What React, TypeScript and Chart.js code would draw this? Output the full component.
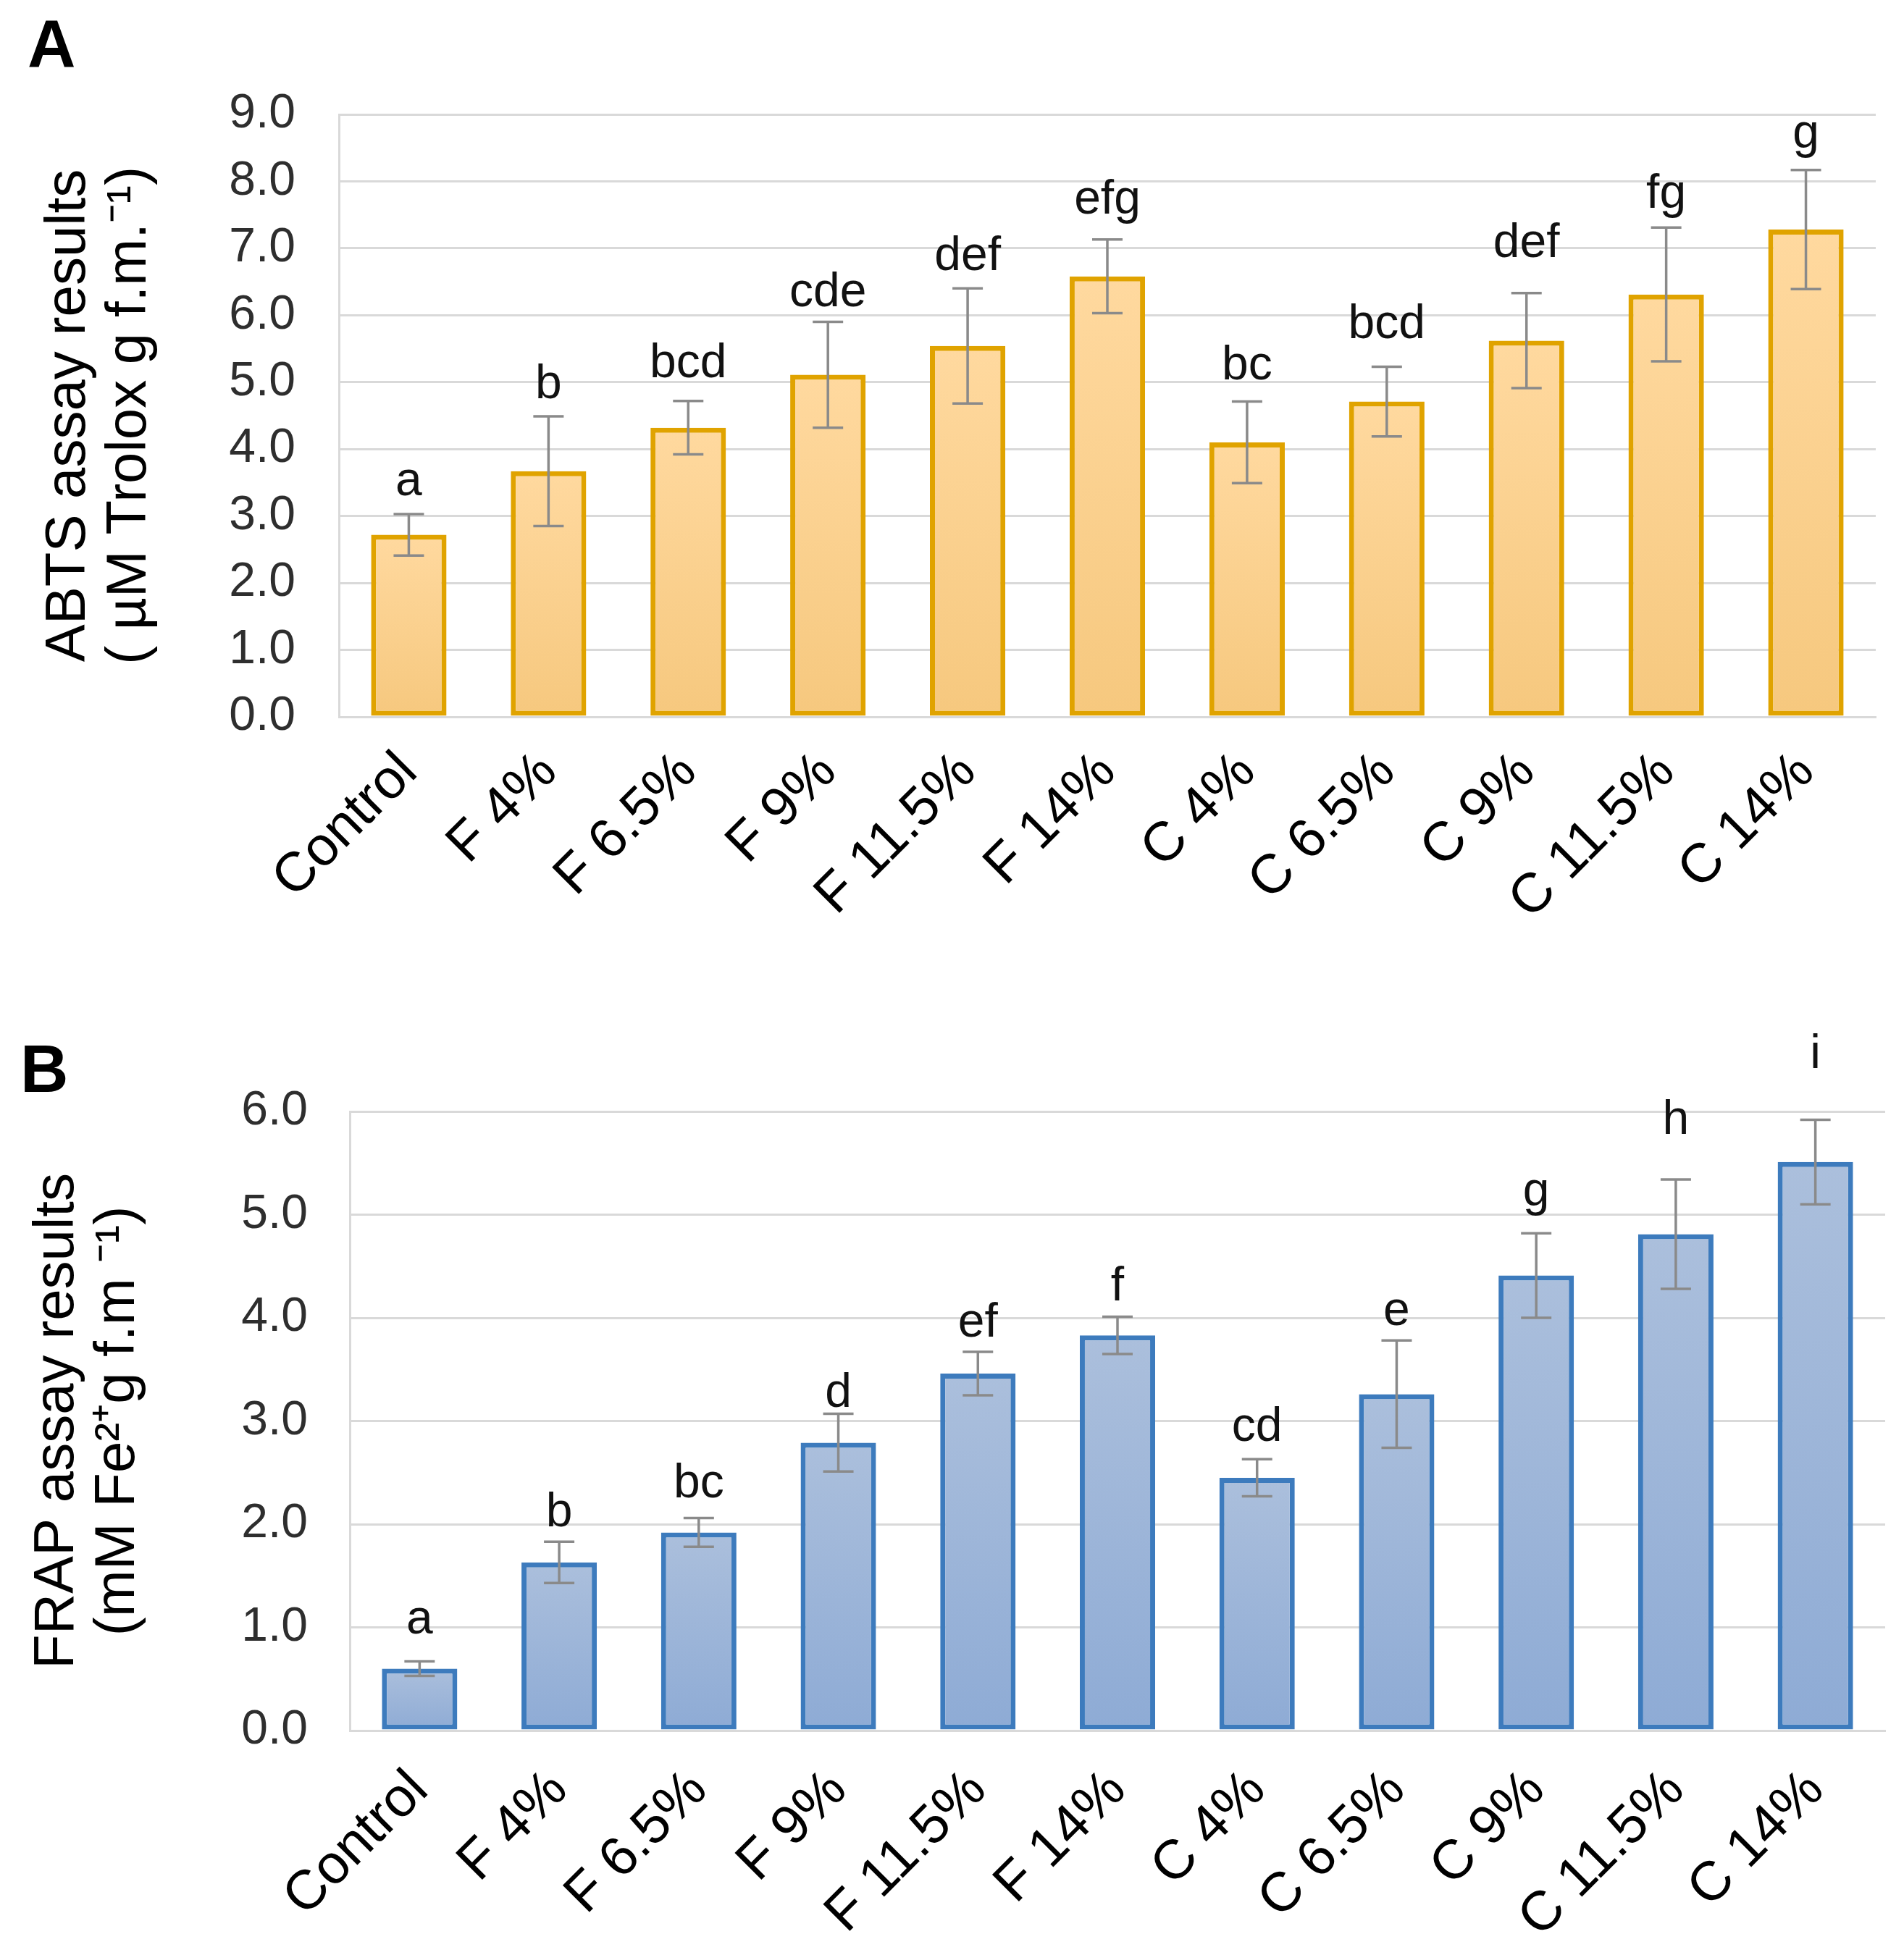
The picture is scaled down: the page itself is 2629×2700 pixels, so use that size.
import React, { useEffect, useRef } from 'react';
import { Chart, registerables } from 'chart.js';

Chart.register(...registerables);

const FONT = '"Liberation Sans", Arial, Helvetica, sans-serif';

// ---------- data ----------
const categories = ['Control', 'F 4%', 'F 6.5%', 'F 9%', 'F 11.5%', 'F 14%', 'C 4%', 'C 6.5%', 'C 9%', 'C 11.5%', 'C 14%'];

const abtsMeans = [2.72, 3.67, 4.32, 5.11, 5.54, 6.58, 4.10, 4.71, 5.62, 6.31, 7.28];
const abtsErrors = [0.31, 0.82, 0.40, 0.79, 0.86, 0.55, 0.61, 0.52, 0.71, 1.00, 0.89];
const abtsLetters = ['a', 'b', 'bcd', 'cde', 'def', 'efg', 'bc', 'bcd', 'def', 'fg', 'g'];
const abtsLetterLevels = [3.31, 4.76, 5.07, 6.13, 6.67, 7.52, 5.04, 5.66, 6.87, 7.60, 8.50];
const abtsTicks = { min: 0, max: 9, step: 1 };

const frapMeans = [0.60, 1.63, 1.92, 2.79, 3.46, 3.83, 2.45, 3.26, 4.41, 4.81, 5.51];
const frapErrors = [0.07, 0.20, 0.14, 0.28, 0.21, 0.18, 0.18, 0.52, 0.41, 0.53, 0.41];
const frapLetters = ['a', 'b', 'bc', 'd', 'ef', 'f', 'cd', 'e', 'g', 'h', 'i'];
const frapLetterLevels = [0.94, 1.98, 2.26, 3.14, 3.82, 4.17, 2.81, 3.93, 5.09, 5.78, 6.42];
const frapTicks = { min: 0, max: 6, step: 1 };

const abtsTitle = ['ABTS assay results', '( µM Trolox g f.m.⁻¹)'];
const frapTitle = ['FRAP assay results', '(mM Fe²⁺g f.m ⁻¹)'];

// ---------- plugin: error bars, letters, panel label ----------
const annotPlugin = {
  id: 'annot',
  afterDatasetsDraw(chart: any, _args: any, opts: any) {
    const { ctx } = chart;
    const y = chart.scales.y;
    const meta = chart.getDatasetMeta(0);
    ctx.save();
    meta.data.forEach((bar: any, i: number) => {
      const v = opts.means[i];
      const e = opts.errors[i];
      const x = bar.x;
      const yt = y.getPixelForValue(v + e);
      const yb = y.getPixelForValue(v - e);
      ctx.strokeStyle = '#8a8a8a';
      ctx.lineWidth = 3.5;
      ctx.beginPath();
      ctx.moveTo(x, yt);
      ctx.lineTo(x, yb);
      ctx.moveTo(x - 21, yt);
      ctx.lineTo(x + 21, yt);
      ctx.moveTo(x - 21, yb);
      ctx.lineTo(x + 21, yb);
      ctx.stroke();
      ctx.fillStyle = '#111111';
      ctx.font = `66px ${FONT}`;
      ctx.textAlign = 'center';
      ctx.textBaseline = 'alphabetic';
      ctx.fillText(opts.letters[i], x, y.getPixelForValue(opts.levels[i]));
    });
    ctx.font = `bold 92px ${FONT}`;
    ctx.textAlign = 'left';
    ctx.textBaseline = 'alphabetic';
    ctx.fillStyle = '#000000';
    ctx.fillText(opts.panel, opts.panelX, opts.panelY);
    ctx.restore();
  },
};

type PanelProps = {
  height: number;
  means: number[];
  errors: number[];
  letters: string[];
  levels: number[];
  ticks: { min: number; max: number; step: number };
  title: string[];
  panel: string;
  panelX: number;
  panelY: number;
  padTop: number;
  padRight: number;
  yWidth: number;
  xHeight: number;
  titlePad: number;
  tickPad: number;
  xTickPad: number;
  fillTop: string;
  fillBottom: string;
  border: string;
};

function BarPanel(p: PanelProps) {
  const ref = useRef<HTMLCanvasElement | null>(null);
  useEffect(() => {
    if (!ref.current) return;
    const chart = new Chart(ref.current, {
      type: 'bar',
      data: {
        labels: categories,
        datasets: [
          {
            data: p.means,
            backgroundColor: (c: any) => {
              const ch = c.chart;
              if (!ch.chartArea || c.type !== 'data' || c.raw == null) return p.fillBottom;
              const ys = ch.scales.y;
              const top = ys.getPixelForValue(c.raw);
              const base = ys.getPixelForValue(0);
              const g = ch.ctx.createLinearGradient(0, top, 0, base);
              g.addColorStop(0, p.fillTop);
              g.addColorStop(1, p.fillBottom);
              return g;
            },
            borderColor: p.border,
            borderWidth: 7,
            borderSkipped: false,
            categoryPercentage: 1,
            barPercentage: 0.54,
          },
        ],
      },
      options: {
        responsive: false,
        devicePixelRatio: 1,
        animation: false,
        events: [],
        layout: { padding: { top: p.padTop, left: 0, right: p.padRight, bottom: 0 } },
        plugins: {
          legend: { display: false },
          tooltip: { enabled: false },
          annot: {
            means: p.means,
            errors: p.errors,
            letters: p.letters,
            levels: p.levels,
            panel: p.panel,
            panelX: p.panelX,
            panelY: p.panelY,
          },
        } as any,
        scales: {
          x: {
            grid: { display: false },
            border: { display: true, color: '#d9d9d9', width: 3 },
            ticks: {
              autoSkip: false,
              maxRotation: 45,
              minRotation: 45,
              padding: p.xTickPad,
              color: '#000000',
              font: { family: FONT, size: 76 },
            },
            afterFit: (s: any) => {
              s.height = p.xHeight;
            },
          },
          y: {
            min: p.ticks.min,
            max: p.ticks.max,
            grid: { color: '#d9d9d9', lineWidth: 3, drawTicks: false },
            border: { display: true, color: '#d9d9d9', width: 3 },
            ticks: {
              stepSize: p.ticks.step,
              padding: p.tickPad,
              color: '#2e2e2e',
              font: { family: FONT, size: 66 },
              callback: (v: any) => Number(v).toFixed(1),
            },
            title: {
              display: true,
              text: p.title,
              color: '#000000',
              font: { family: FONT, size: 78, lineHeight: 1.08 },
              padding: { top: p.titlePad, bottom: 0 },
            },
            afterFit: (s: any) => {
              s.width = p.yWidth;
            },
          },
        },
      },
      plugins: [annotPlugin as any],
    });
    return () => chart.destroy();
  }, []);
  return (
    <canvas
      ref={ref}
      width={2629}
      height={p.height}
      style={{ display: 'block', width: 2629, height: p.height }}
    />
  );
}

export default function App() {
  useEffect(() => {
    document.body.style.margin = '0';
    document.body.style.background = '#ffffff';
  }, []);
  return (
    <div style={{ width: 2629, height: 2700, background: '#ffffff' }}>
      <BarPanel
        height={1360}
        means={abtsMeans}
        errors={abtsErrors}
        letters={abtsLetters}
        levels={abtsLetterLevels}
        ticks={abtsTicks}
        title={abtsTitle}
        panel="A"
        panelX={38}
        panelY={92}
        padTop={158}
        padRight={39}
        yWidth={468}
        xHeight={370}
        titlePad={53}
        tickPad={60}
        xTickPad={24}
        fillTop="#ffd99f"
        fillBottom="#f6c87e"
        border="#e0a300"
      />
      <BarPanel
        height={1340}
        means={frapMeans}
        errors={frapErrors}
        letters={frapLetters}
        levels={frapLetterLevels}
        ticks={frapTicks}
        title={frapTitle}
        panel="B"
        panelX={28}
        panelY={148}
        padTop={175}
        padRight={26}
        yWidth={483}
        xHeight={310}
        titlePad={37}
        tickPad={58}
        xTickPad={30}
        fillTop="#abbfdc"
        fillBottom="#8eabd5"
        border="#3d7bbd"
      />
    </div>
  );
}
